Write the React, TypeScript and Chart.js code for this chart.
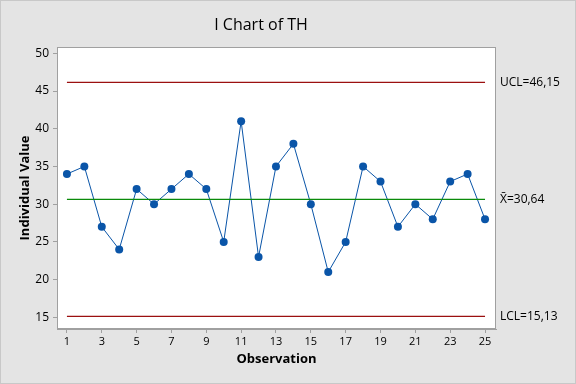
import React, { useEffect, useRef } from "react";
import { Chart, registerables } from "chart.js";

Chart.register(...registerables);

const observations = [1, 2, 3, 4, 5, 6, 7, 8, 9, 10, 11, 12, 13, 14, 15, 16, 17, 18, 19, 20, 21, 22, 23, 24, 25];
const values = [34, 35, 27, 24, 32, 30, 32, 34, 32, 25, 41, 23, 35, 38, 30, 21, 25, 35, 33, 27, 30, 28, 33, 34, 28];
const UCL = 46.15;
const CENTER = 30.64;
const LCL = 15.13;
const controlLabels = ["UCL=46,15", "X\u0304=30,64", "LCL=15,13"];
const yTicks = [15, 20, 25, 30, 35, 40, 45, 50];
const xTicks = [1, 3, 5, 7, 9, 11, 13, 15, 17, 19, 21, 23, 25];
const title = "I Chart of TH";
const xTitle = "Observation";
const yTitle = "Individual Value";

const FONT = "'Open Sans', 'Noto Sans', sans-serif";

const decorPlugin = {
  id: "decor",
  beforeDraw(chart: any) {
    const { ctx, width, height, chartArea } = chart;
    ctx.save();
    ctx.fillStyle = "#e4e4e4";
    ctx.fillRect(0, 0, width, height);
    ctx.strokeStyle = "#c8c8c8";
    ctx.lineWidth = 1;
    ctx.strokeRect(0.5, 0.5, width - 1, height - 1);
    ctx.fillStyle = "#ffffff";
    ctx.fillRect(chartArea.left, chartArea.top, chartArea.right - chartArea.left, chartArea.bottom - chartArea.top);
    ctx.restore();
  },
  afterDraw(chart: any) {
    const { ctx, chartArea, scales } = chart;
    ctx.save();
    ctx.strokeStyle = "#a0a0a0";
    ctx.lineWidth = 1;
    ctx.strokeRect(chartArea.left + 0.5, chartArea.top + 0.5, chartArea.right - chartArea.left - 1, chartArea.bottom - chartArea.top - 1);
    ctx.fillStyle = "#000000";
    ctx.textBaseline = "middle";
    ctx.textAlign = "center";
    ctx.font = `16px ${FONT}`;
    ctx.fillText(title, 261, 25);
    ctx.font = `bold 13px ${FONT}`;
    ctx.fillText(xTitle, (chartArea.left + chartArea.right) / 2, 359);
    ctx.save();
    ctx.translate(25, (chartArea.top + chartArea.bottom) / 2);
    ctx.rotate(-Math.PI / 2);
    ctx.fillText(yTitle, 0, 0);
    ctx.restore();
    ctx.textAlign = "left";
    ctx.font = `12px ${FONT}`;
    const ys = [UCL, CENTER, LCL];
    ys.forEach((v, i) => {
      ctx.fillText(controlLabels[i], chartArea.right + 4, scales.y.getPixelForValue(v));
    });
    ctx.restore();
  },
};

const lineData = (v: number) => [
  { x: observations[0], y: v },
  { x: observations[observations.length - 1], y: v },
];

export default function App() {
  const ref = useRef<HTMLCanvasElement>(null);
  useEffect(() => {
    document.body.style.margin = "0";
    const chart = new Chart(ref.current!, {
      type: "scatter",
      data: {
        datasets: [
          { data: lineData(UCL), showLine: true, borderColor: "#9b1010", borderWidth: 1.2, pointRadius: 0 },
          { data: lineData(LCL), showLine: true, borderColor: "#9b1010", borderWidth: 1.2, pointRadius: 0 },
          { data: lineData(CENTER), showLine: true, borderColor: "#0a8a0a", borderWidth: 1.2, pointRadius: 0 },
          {
            data: observations.map((x, i) => ({ x, y: values[i] })),
            showLine: true,
            borderColor: "#0a55a8",
            backgroundColor: "#0a55a8",
            borderWidth: 1,
            pointRadius: 4,
            pointBorderWidth: 0,
          },
        ],
      },
      options: {
        animation: false,
        responsive: false,
        maintainAspectRatio: false,
        layout: { padding: { left: 0, right: 80, top: 47, bottom: 0 } },
        plugins: { legend: { display: false }, tooltip: { enabled: false }, title: { display: false } },
        scales: {
          x: {
            type: "linear",
            min: 0.43,
            max: 25.63,
            afterFit: (s: any) => { s.height = 55; },
            afterBuildTicks: (s: any) => { s.ticks = xTicks.map((v) => ({ value: v })); },
            grid: { display: true, drawOnChartArea: false, drawTicks: true, tickLength: 4, color: "#a0a0a0" },
            border: { color: "#a0a0a0" },
            ticks: { color: "#000", font: { family: FONT, size: 11 }, padding: 2, maxRotation: 0, autoSkip: false },
          },
          y: {
            type: "linear",
            min: 13.45,
            max: 50.84,
            afterFit: (s: any) => { s.width = 57; },
            afterBuildTicks: (s: any) => { s.ticks = yTicks.map((v) => ({ value: v })); },
            grid: { display: true, drawOnChartArea: false, drawTicks: true, tickLength: 4, color: "#a0a0a0" },
            border: { color: "#a0a0a0" },
            ticks: { color: "#000", font: { family: FONT, size: 12 }, padding: 4, autoSkip: false },
          },
        },
      },
      plugins: [decorPlugin],
    });
    return () => chart.destroy();
  }, []);
  return (
    <div style={{ width: 576, height: 384 }}>
      <canvas ref={ref} width={576} height={384} style={{ display: "block" }} />
    </div>
  );
}
